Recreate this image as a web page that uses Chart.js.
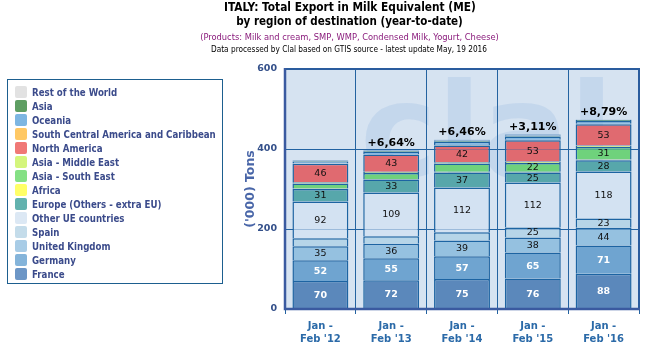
<!DOCTYPE html>
<html><head><meta charset="utf-8">
<script src="https://cdn.jsdelivr.net/npm/chart.js@4.4.1/dist/chart.umd.min.js"></script>
<style>
html,body{margin:0;padding:0;background:#fff;}
#wrap{position:relative;width:645px;height:352px;overflow:hidden;background:#fff;}
canvas{position:absolute;left:0;top:0;}
.t{position:absolute;left:0;top:0;white-space:nowrap;line-height:1.2;font-family:'DejaVu Sans Condensed','DejaVu Sans',sans-serif;}
#legendBox{position:absolute;left:7px;top:79px;width:216px;height:205px;border:1.5px solid #1d5f8f;box-sizing:border-box;}
.sw{position:absolute;width:12px;height:12px;border-radius:2px;}
</style></head><body>
<div id="wrap">
<canvas id="c" width="645" height="352"></canvas>
<div id="legendBox"></div>
</div>
<script>
// ---------- DATA ----------
const tickLines = [["Jan -", "Feb '12"], ["Jan -", "Feb '13"], ["Jan -", "Feb '14"], ["Jan -", "Feb '15"], ["Jan -", "Feb '16"]];
const france              = [70, 72, 75, 76, 88];
const germany             = [52, 55, 57, 65, 71];
const unitedKingdom       = [35, 36, 39, 38, 44];
const spain               = [20, 19, 21, 25, 23];
const otherUE             = [92, 109, 112, 112, 118];
const europeOthers        = [31, 33, 37, 25, 28];
const africa              = [1, 1, 2, 2, 2];
const asiaSouthEast       = [13, 15, 21, 22, 31];
const asiaMiddleEast      = [3, 3, 3, 4, 4];
const northAmerica        = [46, 43, 42, 53, 53];
const southCentralAmerica = [1, 1, 1, 1, 1];
const oceania             = [5, 6, 8, 8, 7];
const asia                = [2, 3, 3, 3, 3];
const restOfWorld         = [1, 1, 2, 2, 1];
const growthLabels = ["", "+6,64%", "+6,46%", "+3,11%", "+8,79%"];
const yTicks = [0, 200, 400, 600];

// ---------- SERIES (stack order bottom -> top) ----------
const series = [
  {name: "France", data: france, bar: "#5b88bb", leg: "#6c96c6", lab: "#ffffff", bold: true},
  {name: "Germany", data: germany, bar: "#6fa4d0", leg: "#84b4da", lab: "#ffffff", bold: true},
  {name: "United Kingdom", data: unitedKingdom, bar: "#95c1e0", leg: "#a8cce6", lab: "#111111"},
  {name: "Spain", data: spain, bar: "#b6d5e8", leg: "#c4dcea", lab: "#111111"},
  {name: "Other UE countries", data: otherUE, bar: "#d3e2f2", leg: "#dce8f4", lab: "#111111"},
  {name: "Europe (Others - extra EU)", data: europeOthers, bar: "#57a7ab", leg: "#62b2ae", lab: "#111111"},
  {name: "Africa", data: africa, bar: "#f2ee5e", leg: "#ffff66", lab: "#111111"},
  {name: "Asia - South East", data: asiaSouthEast, bar: "#6fd27c", leg: "#84e084", lab: "#111111"},
  {name: "Asia - Middle East", data: asiaMiddleEast, bar: "#d6f07c", leg: "#d4f57c", lab: "#111111"},
  {name: "North America", data: northAmerica, bar: "#e06a70", leg: "#f07876", lab: "#111111"},
  {name: "South Central America and Caribbean", data: southCentralAmerica, bar: "#f7c35f", leg: "#ffc864", lab: "#111111"},
  {name: "Oceania", data: oceania, bar: "#84b8e2", leg: "#7db6e2", lab: "#111111"},
  {name: "Asia", data: asia, bar: "#5b9d62", leg: "#5e9e62", lab: "#111111"},
  {name: "Rest of the World", data: restOfWorld, bar: "#dadada", leg: "#e2e2e2", lab: "#111111"}
];

const wrap = document.getElementById('wrap');
function placeText(text, x, cy, w, style, align) {
  const el = document.createElement('span');
  el.className = 't';
  el.textContent = text;
  Object.assign(el.style, style);
  el.style.fontSize = '10px';
  wrap.appendChild(el);
  let wd = el.getBoundingClientRect().width;
  const fs = 10 * w / wd;
  el.style.fontSize = fs + 'px';
  wd = el.getBoundingClientRect().width;
  el.style.left = (align === 'left' ? x : x - wd / 2) + 'px';
  el.style.top = (cy - 0.6 * fs) + 'px';
  return fs;
}
placeText("ITALY: Total Export in Milk Equivalent (ME)", 350, 7.5, 252, {fontWeight: 'bold', color: '#000'});
placeText("by region of destination (year-to-date)", 349.5, 21.5, 227, {fontWeight: 'bold', color: '#000'});
placeText("(Products: Milk and cream, SMP, WMP, Condensed Milk, Yogurt, Cheese)", 349.5, 36.5, 299, {color: '#8a1c7c'});
placeText("Data processed by Clal based on GTIS source - latest update May, 19 2016", 349, 50, 276, {color: '#000'});

// legend (top item = last in stack)
const legendOrder = series.slice().reverse();
let legFs = null;
legendOrder.forEach((s, i) => {
  const cy = 92.3 + 14 * i;
  const sw = document.createElement('div');
  sw.className = 'sw';
  sw.style.left = '15px'; sw.style.top = (cy - 6) + 'px'; sw.style.background = s.leg;
  wrap.appendChild(sw);
});
(function(){
  const probe = document.createElement('span');
  probe.className = 't'; probe.style.fontWeight = 'bold'; probe.style.fontSize = '10px';
  probe.textContent = "South Central America and Caribbean";
  wrap.appendChild(probe);
  legFs = 10 * 184 / probe.getBoundingClientRect().width;
  wrap.removeChild(probe);
})();
legendOrder.forEach((s, i) => {
  const cy = 92.3 + 14 * i;
  const el = document.createElement('span');
  el.className = 't';
  el.textContent = s.name;
  el.style.fontWeight = 'bold'; el.style.color = '#3b4b8b';
  el.style.fontSize = legFs + 'px';
  el.style.left = '32px'; el.style.top = (cy - 0.6 * legFs) + 'px';
  wrap.appendChild(el);
});

// ---------- PLUGINS ----------
const bgPlugin = {
  id: 'bg',
  beforeDraw(chart) {
    const {ctx, chartArea: a} = chart;
    ctx.save();
    ctx.fillStyle = '#d6e3f1';
    ctx.fillRect(a.left, a.top, a.right - a.left, a.bottom - a.top);
    ctx.beginPath(); ctx.rect(a.left, a.top, a.right - a.left, a.bottom - a.top); ctx.clip();
    ctx.fillStyle = 'rgba(160,190,228,0.33)';
    ctx.font = 'bold 130px "DejaVu Sans"';
    ctx.textBaseline = 'alphabetic';
    ctx.fillText('clal', 360, 176);
    ctx.restore();
  }
};
const labelPlugin = {
  id: 'labels',
  afterDatasetsDraw(chart) {
    const {ctx, chartArea: a} = chart;
    const ys = chart.scales.y;
    ctx.save();
    ctx.strokeStyle = 'rgba(30,95,165,0.3)';
    ctx.lineWidth = 1;
    yTicks.slice(1, -1).forEach(v => {
      const y = Math.round(ys.getPixelForValue(v)) + 0.5;
      ctx.beginPath(); ctx.moveTo(a.left, y); ctx.lineTo(a.right, y); ctx.stroke();
    });
    ctx.textAlign = 'center';
    ctx.textBaseline = 'middle';
    chart.data.datasets.forEach((ds, di) => {
      const meta = chart.getDatasetMeta(di);
      const s = series[di];
      meta.data.forEach((bar, i) => {
        const v = ds.data[i];
        if (v < 22) return;
        ctx.fillStyle = s.lab;
        ctx.font = (s.bold ? 'bold ' : '') + '9.5px "DejaVu Sans"';
        ctx.fillText(String(v), bar.x, (bar.y + bar.base) / 2 + 0.5);
      });
    });
    const lastMeta = chart.getDatasetMeta(chart.data.datasets.length - 1);
    ctx.fillStyle = '#000';
    ctx.font = 'bold 11px "DejaVu Sans"';
    ctx.textBaseline = 'bottom';
    lastMeta.data.forEach((bar, i) => {
      if (growthLabels[i]) ctx.fillText(growthLabels[i], bar.x, bar.y - 2);
    });
    ctx.restore();
  },
  afterDraw(chart) {
    const {ctx, chartArea: a} = chart;
    ctx.save();
    ctx.strokeStyle = '#2a5c9e';
    ctx.lineWidth = 2;
    ctx.strokeRect(a.left, a.top, a.right - a.left, a.bottom - a.top);
    ctx.strokeStyle = '#3a5aa0';
    ctx.lineWidth = 2.5;
    ctx.beginPath();
    ctx.moveTo(a.left, a.top - 1); ctx.lineTo(a.left, a.bottom); ctx.lineTo(a.right + 1, a.bottom);
    ctx.stroke();
    ctx.restore();
  }
};

// ---------- CHART ----------
new Chart(document.getElementById('c'), {
  type: 'bar',
  data: {
    labels: tickLines,
    datasets: series.map(s => ({
      label: s.name,
      data: s.data,
      backgroundColor: s.bar,
      borderColor: '#1d64a2',
      borderWidth: 1.5,
      borderSkipped: 'start',
      barPercentage: 0.79,
      categoryPercentage: 1.0
    }))
  },
  options: {
    responsive: false,
    animation: false,
    devicePixelRatio: 1,
    layout: {padding: {left: 238, right: 6, top: 69, bottom: 0}},
    plugins: {legend: {display: false}, tooltip: {enabled: false}, title: {display: false}},
    scales: {
      x: {
        stacked: true,
        grid: {offset: true, color: '#2463a0', lineWidth: 1, tickLength: 5, drawOnChartArea: true},
        border: {display: false},
        ticks: {
          font: {family: 'DejaVu Sans', weight: 'bold', size: 10, lineHeight: 1.3},
          color: '#2b6aa8', padding: 6, maxRotation: 0, autoSkip: false
        },
        afterFit(s) { s.height = 43; }
      },
      y: {
        stacked: true, min: 0, max: 600,
        afterBuildTicks(s) { s.ticks = yTicks.map(v => ({value: v})); },
        ticks: {font: {family: 'DejaVu Sans', weight: 'bold', size: 9.5}, color: '#34508a', padding: 8},
        grid: {color: '#2463a0', lineWidth: 1, drawTicks: false},
        border: {display: false},
        title: {display: true, text: "('000) Tons", font: {family: 'DejaVu Sans', weight: 'bold', size: 12.5}, color: '#4966a8', padding: {top: 5, bottom: 0}},
        afterFit(s) { s.width = 47; }
      }
    }
  },
  plugins: [bgPlugin, labelPlugin]
});
</script>
</body></html>
